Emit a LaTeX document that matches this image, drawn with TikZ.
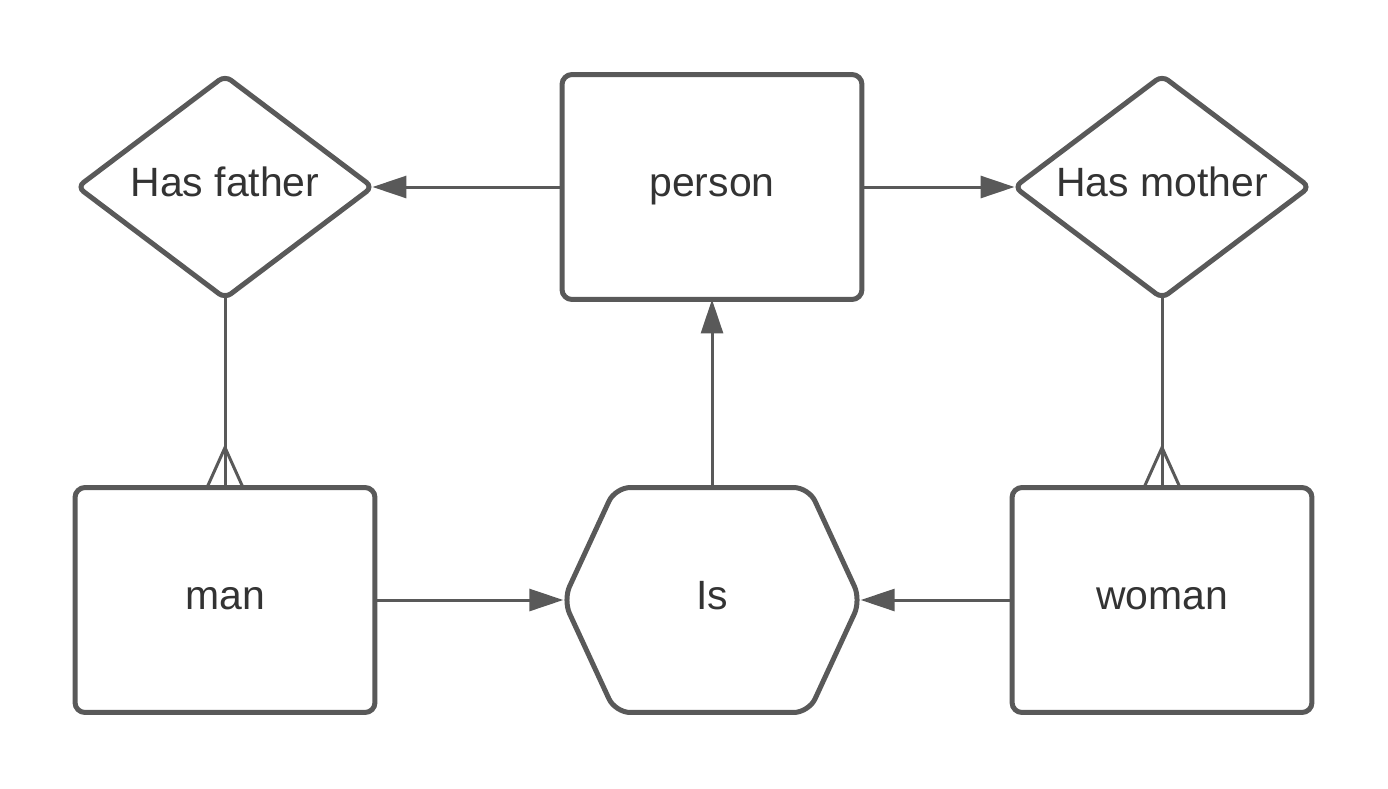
\documentclass[tikz,border=0pt]{standalone}
\usepackage{fontspec}
\setmainfont{Liberation Sans}
\usetikzlibrary{shapes.geometric,arrows.meta,calc}
\definecolor{edgegray}{HTML}{595959}
\definecolor{textgray}{HTML}{333333}

\begin{document}
\begin{tikzpicture}[x=0.02cm,y=-0.02cm,
  box/.style={draw=edgegray,line width=0.1cm,rounded corners=0.2cm,outer sep=0pt,
    text=textgray,font=\fontsize{23.3}{28}\selectfont,text height=20pt,text depth=8.7pt},
  entity/.style={box,rectangle,minimum width=6cm,minimum height=4.5cm},
  relation/.style={box,diamond,aspect=1.34,inner sep=0pt,
    minimum width=5.9cm,minimum height=4.45cm,rounded corners=0.15cm},
  link/.style={draw=edgegray,line width=0.06cm},
  arrow/.style={link,-{Triangle[length=0.68cm,width=0.44cm]}}]
  \useasboundingbox (0,0) rectangle (1388,788);
  \node[entity] (person) at (712,187) {person};
  \node[entity] (man) at (225,600) {man};
  \node[entity] (woman) at (1162,600) {woman};
  \node[relation] (father) at (225,187) {Has father};
  \node[relation] (mother) at (1162,187) {Has mother};
  \node[box,draw=none,minimum width=5.95cm,minimum height=4.5cm] (is) at (712,600) {Is};
  \draw[box,rounded corners=0.3cm] (is.west) -- ([xshift=1.04cm]is.north west)
    -- ([xshift=-1.04cm]is.north east) -- (is.east)
    -- ([xshift=-1.04cm]is.south east) -- ([xshift=1.04cm]is.south west) -- cycle;
  \draw[arrow] (person) -- (father);
  \draw[arrow] (person) -- (mother);
  \draw[arrow] (is) -- (person);
  \draw[arrow] (man) -- (is);
  \draw[arrow] (woman) -- (is);
  \draw[link] (father) -- (man);
  \draw[link] (mother) -- (woman);
  \foreach \e in {man,woman}
    \draw[link] ($(\e.north)+(-18,0)$) -- ($(\e.north)+(0,-40)$) -- ($(\e.north)+(18,0)$);
\end{tikzpicture}
\end{document}
